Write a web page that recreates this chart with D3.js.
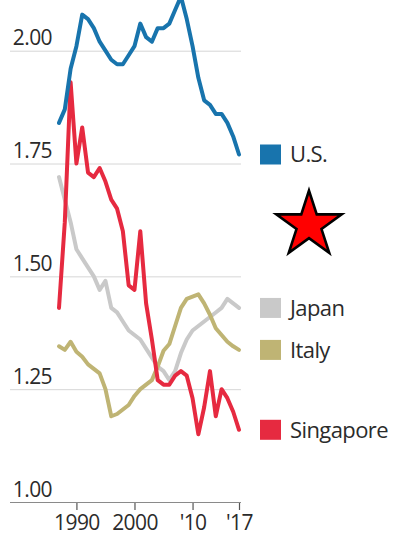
<!DOCTYPE html>
<html>
<head>
<meta charset="utf-8">
<script src="https://cdn.jsdelivr.net/npm/d3@7"></script>
<style>
  html, body { margin: 0; padding: 0; background: #fff; }
  svg { display: block; }
  text { font-family: "Open Sans", "Noto Sans", sans-serif; fill: #2b2b2b; }
</style>
</head>
<body>
<svg id="chart" width="407" height="536"></svg>
<script>
// Total fertility rate, births per woman, annual values 1986-2017
const years = [1986, 1987, 1988, 1989, 1990, 1991, 1992, 1993, 1994, 1995, 1996,
  1997, 1998, 1999, 2000, 2001, 2002, 2003, 2004, 2005, 2006, 2007, 2008,
  2009, 2010, 2011, 2012, 2013, 2014, 2015, 2016, 2017];

const usValues = [1.84, 1.87, 1.96, 2.01, 2.08, 2.07, 2.05, 2.02, 2.00, 1.98, 1.97,
  1.97, 1.99, 2.01, 2.06, 2.03, 2.02, 2.05, 2.05, 2.06, 2.09, 2.12, 2.07,
  2.01, 1.94, 1.89, 1.88, 1.86, 1.86, 1.84, 1.81, 1.77];

const japanValues = [1.72, 1.67, 1.62, 1.56, 1.54, 1.52, 1.50, 1.47, 1.49, 1.43, 1.42,
  1.40, 1.38, 1.37, 1.36, 1.34, 1.32, 1.30, 1.29, 1.27, 1.29, 1.33, 1.36,
  1.38, 1.39, 1.40, 1.41, 1.42, 1.43, 1.45, 1.44, 1.43];

const italyValues = [1.345, 1.337, 1.355, 1.333, 1.322, 1.305, 1.295, 1.285, 1.25, 1.19, 1.195,
  1.205, 1.215, 1.235, 1.25, 1.26, 1.27, 1.30, 1.335, 1.35, 1.39, 1.43, 1.45,
  1.455, 1.46, 1.44, 1.415, 1.385, 1.37, 1.355, 1.345, 1.337];

const singaporeValues = [1.43, 1.62, 1.93, 1.75, 1.83, 1.73, 1.72, 1.74, 1.71, 1.67, 1.65,
  1.60, 1.48, 1.47, 1.60, 1.44, 1.36, 1.27, 1.26, 1.26, 1.28, 1.29, 1.28,
  1.23, 1.15, 1.21, 1.29, 1.19, 1.25, 1.23, 1.20, 1.16];

const seriesNames = ["Japan", "Italy", "Singapore", "U.S."];
const seriesColors = ["#c9c9c9", "#bfb474", "#e62a40", "#1874ad"];

const yTickValues = [1.00, 1.25, 1.50, 1.75, 2.00];
const xTickDates = [new Date(1990, 0, 1), new Date(2000, 0, 1), new Date(2010, 0, 1), new Date(2018, 0, 1)];
const xTickLabels = ["1990", "2000", "'10", "'17"];

// each annual value sits at the close of its year
const yearEnd = y => new Date(y + 1, 0, 1);

const svg = d3.select("#chart");

const x = d3.scaleTime()
  .domain([yearEnd(1986), yearEnd(2017)])
  .range([59, 239]);

const y = d3.scaleLinear()
  .domain([1, 2])
  .range([502, 50.7]);

// horizontal gridlines with value labels above them
const yAxis = d3.axisRight(y)
  .tickValues(yTickValues)
  .tickFormat(d3.format(".2f"))
  .tickSize(231);

const gy = svg.append("g")
  .attr("transform", "translate(10,0)")
  .call(yAxis);
gy.select(".domain").remove();
gy.selectAll(".tick line")
  .attr("stroke", d => d === 1 ? "#8a8a8a" : "#d6d6d6")
  .attr("stroke-width", 1);
gy.selectAll(".tick text")
  .attr("x", 42)
  .attr("dy", -6)
  .attr("text-anchor", "end")
  .attr("font-size", 21)
  .attr("font-weight", 500)
  .attr("font-family", "Open Sans, sans-serif")
  .attr("fill", "#262626")
  .style("letter-spacing", "-0.6px");

// year axis
const xAxis = d3.axisBottom(x)
  .tickValues(xTickDates)
  .tickFormat((d, i) => xTickLabels[i])
  .tickSize(7)
  .tickPadding(5);

const gx = svg.append("g")
  .attr("transform", "translate(0,503)")
  .call(xAxis);
gx.select(".domain").remove();
gx.selectAll(".tick line").attr("stroke", "#555").attr("stroke-width", 1.2);
gx.selectAll(".tick text")
  .attr("font-size", 21)
  .attr("font-weight", 500)
  .attr("font-family", "Open Sans, sans-serif")
  .attr("fill", "#262626")
  .style("letter-spacing", "-0.6px");

// series lines
const series = [japanValues, italyValues, singaporeValues, usValues].map((vals, i) => ({
  name: seriesNames[i],
  color: seriesColors[i],
  points: years.map((yr, j) => ({ date: yearEnd(yr), value: vals[j] }))
}));

const line = d3.line()
  .x(d => x(d.date))
  .y(d => y(d.value));

svg.append("g")
  .selectAll("path")
  .data(series)
  .join("path")
  .attr("d", d => line(d.points))
  .attr("fill", "none")
  .attr("stroke", d => d.color)
  .attr("stroke-width", 4)
  .attr("stroke-linejoin", "round")
  .attr("stroke-linecap", "round");

// legend keyed to each line's latest value
const legend = svg.append("g")
  .selectAll("g")
  .data(series)
  .join("g")
  .attr("transform", d => `translate(260,${y(d.points[d.points.length - 1].value)})`);

legend.append("rect")
  .attr("x", 0)
  .attr("y", -10)
  .attr("width", 21)
  .attr("height", 20)
  .attr("fill", d => d.color);

legend.append("text")
  .attr("x", 30)
  .attr("y", 8)
  .attr("font-size", 22)
  .attr("font-weight", 500)
  .attr("font-family", "Open Sans, sans-serif")
  .attr("fill", "#262626")
  .style("letter-spacing", "-0.6px")
  .text(d => d.name);

// red star marker
svg.append("path")
  .attr("d", d3.symbol(d3.symbolStar, 1330)())
  .attr("transform", "translate(309,225)")
  .attr("fill", "#ff0000")
  .attr("stroke", "#000")
  .attr("stroke-width", 2.6)
  .attr("stroke-linejoin", "miter");
</script>
</body>
</html>
